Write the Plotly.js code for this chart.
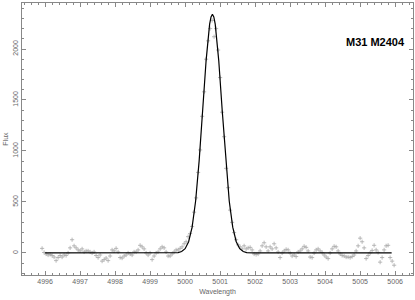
<!DOCTYPE html>
<html>
<head>
<meta charset="utf-8">
<script src="https://cdn.plot.ly/plotly-3.0.1.min.js"></script>
<style>html,body{margin:0;padding:0;background:#fff;}#chart{width:415px;height:300px;}</style>
</head>
<body>
<div id="chart"></div>
<script>
const waveStart = 4995.914;
const waveStep = 0.05714;
const fluxObserved = [
  45, 5, -10, -20, -15, -25, -40, -75, -45, -25, -40, -20, -25, 0, 50, 130, 70, 50, 30, 20,
  40, 10, 20, 20, 10, 0, 10, -25, -45, -20, -80, -65, -50, -75,
  -30, 30, 20, 45, 10, -45, -50, -30, -20, 0, -10, -20, 10, 10, 30, 75, 60, 40, 0, -20,
  0, -65, -30, 0, 10, 40, 60, 50, 10, -30, -30, -10, 10, 30, 30, 45,
  60, 90, 110, 160, 190, 260, 400, 540, 790, 1010, 1340, 1580, 1900, 2080, 2200, 2280, 2120, 2200, 1990, 1720,
  1380, 1140, 830, 640, 420, 300, 200, 130, 80,
  60, 40, 70, 40, 50, 55, 30, -10, -15, -10, 20, 70, 100, 60, 20, 60, 40, 90, 50, 10,
  -45, 0, 20, 35, 30, 0, -30, -20, -35, 10, 20, 40, 65, 55, 20, -40,
  -45, 0, 30, 40, 20, 5, -20, -40, -55, 0, 40, 65, 60, 20, -10, -25, -30, -40, -40, -45,
  -35, -20, 20, 70, 145, 110, 50, -55, -25, 0, 25, 75, 30, 5, -90, -45, 30, 70, 75, -45,
  -80, -120
];
const waveObserved = fluxObserved.map((_, i) => +(waveStart + i * waveStep).toFixed(4));

// Fitted profile
const waveFit = [4996.00, 4999.60, 4999.80, 4999.90, 5000.00, 5000.10, 5000.20, 5000.30, 5000.40, 5000.50,
  5000.60, 5000.70, 5000.74, 5000.78, 5000.82, 5000.86, 5000.96, 5001.06, 5001.16, 5001.26,
  5001.36, 5001.46, 5001.56, 5001.66, 5001.76, 5001.96, 5005.90];
const fluxFit = [0, 0, 4, 14, 42, 110, 253, 510, 901, 1394,
  1889, 2243, 2315, 2340, 2315, 2243, 1889, 1394, 901, 510,
  253, 110, 42, 14, 4, 0, 0];

const xTicks = [4996, 4997, 4998, 4999, 5000, 5001, 5002, 5003, 5004, 5005, 5006];
const yTicks = [0, 500, 1000, 1500, 2000];
const labelText = 'M31 M2404';

const tickFont = {family: 'Liberation Sans, Arial, sans-serif', size: 7, color: '#666'};
const axisCommon = {
  showline: true, linecolor: '#888', linewidth: 1, mirror: 'allticks',
  ticks: 'inside', ticklen: 4, tickcolor: '#888', tickwidth: 1,
  showgrid: false, zeroline: false, tickfont: tickFont
};

const traces = [
  {
    x: waveObserved, y: fluxObserved, type: 'scatter', mode: 'markers',
    marker: {symbol: 'cross-thin-open', size: 3, color: '#a8a8a8', line: {width: 0.8, color: '#a8a8a8'}},
    hoverinfo: 'skip'
  },
  {
    x: waveFit, y: fluxFit, type: 'scatter', mode: 'lines',
    line: {color: '#000', width: 1.2}, hoverinfo: 'skip'
  }
];

const layout = {
  width: 415, height: 300,
  margin: {l: 22, r: 2, t: 3, b: 25, pad: 0},
  paper_bgcolor: '#fff', plot_bgcolor: '#fff',
  showlegend: false,
  xaxis: Object.assign({}, axisCommon, {
    range: [4995.34, 5006.51], tickvals: xTicks, ticktext: xTicks.map(String),
    minor: {dtick: 0.2, tick0: 4996, ticks: 'inside', ticklen: 2, tickcolor: '#888'},
    title: {text: 'Wavelength', font: {family: 'Liberation Sans, Arial, sans-serif', size: 7, color: '#666'}, standoff: 4}
  }),
  yaxis: Object.assign({}, axisCommon, {
    range: [-216, 2451], tickvals: yTicks, ticktext: yTicks.map(String), tickangle: -90,
    minor: {dtick: 100, tick0: 0, ticks: 'inside', ticklen: 2, tickcolor: '#888'},
    title: {text: 'Flux', font: {family: 'Liberation Sans, Arial, sans-serif', size: 7, color: '#666'}, standoff: 2}
  }),
  annotations: [{
    text: labelText, xref: 'paper', yref: 'paper', x: 0.905, y: 0.855,
    xanchor: 'center', yanchor: 'middle', showarrow: false,
    font: {family: 'Liberation Sans, Arial, sans-serif', size: 11, color: '#000', weight: 'bold'}
  }]
};

Plotly.newPlot('chart', traces, layout, {displayModeBar: false, staticPlot: true});
</script>
</body>
</html>
